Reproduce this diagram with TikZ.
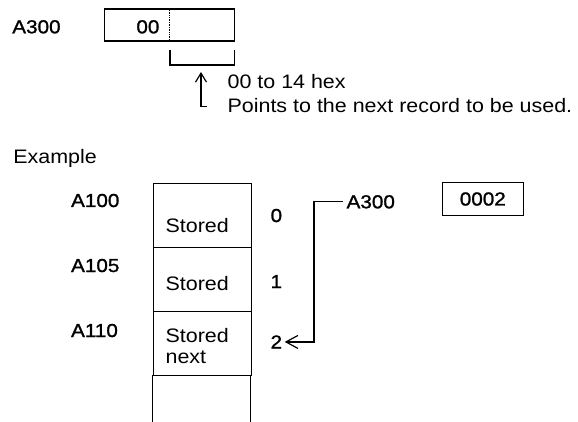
\documentclass[tikz,border=0pt]{standalone}
\usepackage{fontspec}
\setmainfont{Liberation Sans}[FakeStretch=1.1]
\newfontfamily\heavyfont{Liberation Sans}[FakeStretch=1.1,FakeBold=1.2]
\usetikzlibrary{arrows.meta}

\begin{document}
\begin{tikzpicture}[x=1pt,y=-1pt,line width=1.2pt,
  lbl/.style={inner sep=0pt,anchor=base west,font=\fontsize{19.5}{24}\selectfont},
  addr/.style={lbl,font=\heavyfont\fontsize{18.8}{22}\selectfont},
  cell/.style={draw,line width=1.3pt,minimum width=98pt,minimum height=64pt,anchor=north west,inner sep=0pt},
  barb/.style={-{Straight Barb[length=9pt,width=11pt]}}]
  \useasboundingbox (0,0) rectangle (578,422);
  % pointer word
  \node[addr] (wa) at (11.7,33.3) {A300};
  \node[draw,line width=1.3pt,minimum width=130pt,minimum height=32pt,inner sep=0pt] (word) at (169.3,25) {};
  \draw[line width=0.7pt,densely dotted] ([xshift=65.7pt]word.north west) -- ([xshift=65.7pt]word.south west);
  \node[addr,anchor=base east] (wv) at (160,33.3) {00};
  \draw (170,50) -- (170,65) -- (234.3,65) -- (234.3,50);
  \coordinate (brk) at (201,65);
  \coordinate (foot) at (207,106.7);
  \draw[barb,shorten >=7pt] (foot) -| (brk);
  % last line is the base of a two-line node
  \node[lbl,align=left] (note) at (227,113) {00 to 14 hex\\Points to the next record to be used.};
  \node[lbl] (ex) at (12.7,163.3) {Example};
  % record area
  \foreach \i/\ty in {1/182.7,2/246.7,3/310.7} \node[cell] (c\i) at (152.7,\ty) {};
  \draw[line width=1.3pt] (152.7,374.7) -- (152.7,424) (250.7,374.7) -- (250.7,424);
  \node[lbl] (s1) at (165,233) {Stored};
  \node[lbl] (s2) at (165,290) {Stored};
  \node[lbl,align=left,font=\fontsize{19.5}{20.7}\selectfont] (s3) at (165,363.3) {Stored\\next};
  \foreach \n/\a/\y in {1/A100/207,2/A105/272,3/A110/337} \node[addr] (a\n) at (70.5,\y) {\a};
  \foreach \n/\y in {0/222,1/288,2/348.5} \node[addr] (i\n) at (270,\y) {\n};
  % pointer value
  \node[addr] (pa) at (346,208.3) {A300};
  \node[addr,draw,line width=1.3pt,minimum width=81pt,minimum height=32.6pt,anchor=center] (val) at (482.8,199) {0002};
  \draw[-{Straight Barb[length=12pt,width=13pt]}] ([xshift=-3pt]pa.west) -- ++(-29,0) |- ([xshift=2pt]i2.east);
\end{tikzpicture}
\end{document}
